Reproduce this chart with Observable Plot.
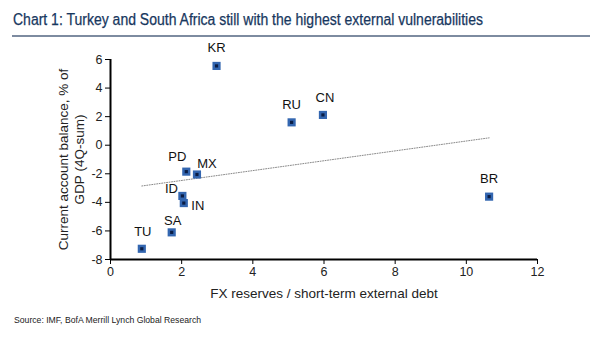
<!DOCTYPE html>
<html><head><meta charset="utf-8">
<script src="https://cdn.jsdelivr.net/npm/d3@7"></script>
<script src="https://cdn.jsdelivr.net/npm/@observablehq/plot@0.6"></script>
<style>
body{margin:0;background:#fff;width:600px;height:344px;overflow:hidden;position:relative;font-family:"Liberation Sans",Arial,sans-serif;}
#title{position:absolute;left:13px;top:11px;font-family:"Liberation Sans",Arial,sans-serif;font-size:16px;color:#17375e;white-space:nowrap;transform:scaleX(0.875);transform-origin:0 0;-webkit-text-stroke:0.25px #17375e;}
#rule{position:absolute;left:12px;top:35px;width:578px;height:2px;background:#7d8ba0;}
#chart{position:absolute;left:0;top:40px;}
#source{position:absolute;left:14px;top:314px;font-family:"Liberation Sans",Arial,sans-serif;font-size:9.5px;color:#222;white-space:nowrap;transform:scaleX(0.91);transform-origin:0 0;}
</style></head><body>
<div id="title">Chart 1: Turkey and South Africa still with the highest external vulnerabilities</div>
<div id="rule"></div>
<div id="chart"></div>
<div id="source">Source: IMF, BofA Merrill Lynch Global Research</div>
<script>
const countries = ["KR","CN","RU","PD","MX","ID","IN","SA","TU","BR"];
const fxRatio   = [2.98, 5.97, 5.09, 2.13, 2.43, 2.02, 2.06, 1.72, 0.88, 10.64];
const currAcct  = [5.55, 2.12, 1.6, -1.85, -2.05, -3.55, -4.05, -6.1, -7.25, -3.6];
const xTicks = [0,2,4,6,8,10,12];
const yTicks = [-8,-6,-4,-2,0,2,4,6];

const FONT = "'Liberation Sans', Arial, sans-serif";
const data = countries.map((c,i)=>({c, x: fxRatio[i], y: currAcct[i]}));
const off = {KR:[0,-18],CN:[2,-17],RU:[0,-18],BR:[0,-18],PD:[-9,-15],MX:[10,-11],ID:[-11,-7],IN:[14,3],SA:[1,-12],TU:[1,-17]};
const labelMarks = countries.map(c => Plot.text(data.filter(d=>d.c===c), {x:"x", y:"y", text:"c", dx: off[c][0], dy: off[c][1], fontSize:13, fill:"#111", fontFamily: FONT}));
const fmt = d => String(d);

const plot = Plot.plot({
  width: 600, height: 265,
  marginLeft: 110, marginRight: 63, marginTop: 19, marginBottom: 46,
  style: {fontFamily: FONT, fontSize: "12px", color:"#222", background:"transparent"},
  x: {domain:[0,12], label: null},
  y: {domain:[-8,6], label: null},
  marks: [
    Plot.axisX({ticks: xTicks, tickFormat: fmt, tickSize: 5, tickPadding: 3, fontSize: 12.5, stroke:"#000", fill:"#222", label:null, fontFamily: FONT}),
    Plot.axisY({ticks: yTicks, tickFormat: fmt, tickSize: 5, tickPadding: 3, fontSize: 12.5, stroke:"#000", fill:"#222", label:null, fontFamily: FONT}),
    Plot.ruleY([-8], {stroke:"#000", strokeWidth: 2}),
    Plot.ruleX([0], {stroke:"#000", strokeWidth: 2}),
    Plot.linearRegressionY(data, {x:"x", y:"y", ci: 0, stroke:"#8a8a8a", strokeWidth: 1, strokeDasharray:"1,1.5"}),
    Plot.dot(data, {x:"x", y:"y", symbol:"square", r:4.6, fill:"#3366b0"}),
    Plot.dot(data, {x:"x", y:"y", symbol:"square", r:1.8, fill:"#0a1d45"}),
    ...labelMarks,
    Plot.text(["Current account balance, % of\nGDP (4Q-sum)"], {frameAnchor:"left", textAnchor:"middle", dx:-40, rotate:-90, fontSize:13.5, fill:"#222", lineHeight:1.2, fontFamily: FONT}),
    Plot.text(["FX reserves / short-term external debt"], {frameAnchor:"bottom", dy:38, fontSize:13.5, fill:"#222", fontFamily: FONT})
  ]
});
document.getElementById("chart").appendChild(plot);
</script>
</body></html>
